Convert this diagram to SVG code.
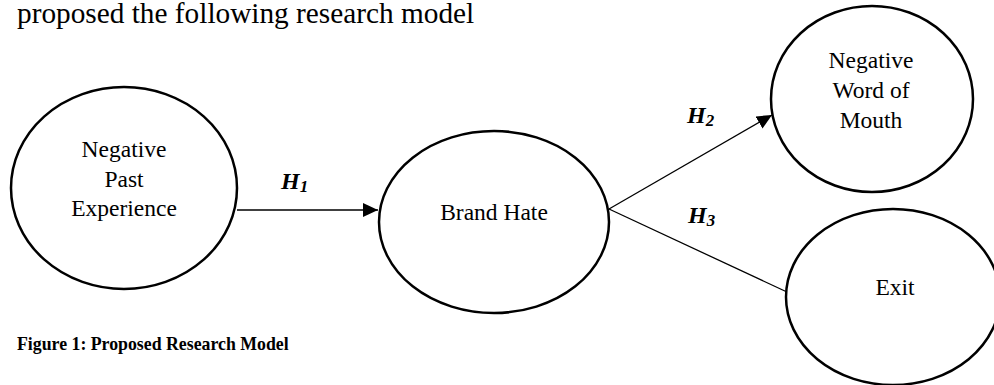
<svg xmlns="http://www.w3.org/2000/svg" width="994" height="385" viewBox="0 0 994 385">
  <style>
    .node { fill: #ffffff; stroke: #000000; stroke-width: 2.5; }
    .label { font-family: "Liberation Serif", "Times New Roman", serif; font-size: 23.5px; fill: #000000; text-anchor: middle; }
    .hyp { font-family: "Liberation Serif", "Times New Roman", serif; font-size: 24px; font-weight: bold; font-style: italic; fill: #000000; }
    .sub { font-size: 17px; }
    .edge { stroke: #000000; stroke-width: 1.3; fill: none; }
    .body { font-family: "Liberation Serif", "Times New Roman", serif; font-size: 29.3px; fill: #000000; }
    .caption { font-family: "Liberation Serif", "Times New Roman", serif; font-size: 17.8px; font-weight: bold; fill: #000000; }
  </style>
  <defs>
    <marker id="arrow" markerWidth="15" markerHeight="14" refX="15" refY="7" orient="auto" markerUnits="userSpaceOnUse">
      <path d="M0,0 L15,7 L0,14 Z" fill="#000000"/>
    </marker>
  </defs>

  <rect width="994" height="385" fill="#ffffff"/>

  <text class="body" x="17" y="23">proposed the following research model</text>

  <!-- connectors -->
  <g id="connectors">
    <line class="edge" x1="237" y1="210" x2="378" y2="210" marker-end="url(#arrow)"/>
    <line class="edge" x1="609" y1="209" x2="772" y2="115" marker-end="url(#arrow)"/>
    <line class="edge" x1="609" y1="209" x2="787" y2="292"/>
    <text class="hyp" x="281" y="189">H<tspan class="sub" dy="3">1</tspan></text>
    <text class="hyp" x="687" y="123">H<tspan class="sub" dy="3">2</tspan></text>
    <text class="hyp" x="688" y="223">H<tspan class="sub" dy="3">3</tspan></text>
  </g>

  <g id="negative-past-experience">
    <ellipse class="node" cx="124" cy="188" rx="113" ry="101"/>
    <text class="label" x="124" y="157">Negative</text>
    <text class="label" x="124" y="187">Past</text>
    <text class="label" x="124" y="216">Experience</text>
  </g>

  <g id="brand-hate">
    <ellipse class="node" cx="494" cy="222" rx="115" ry="91"/>
    <text class="label" x="494" y="220">Brand Hate</text>
  </g>

  <g id="negative-word-of-mouth">
    <ellipse class="node" cx="872" cy="99" rx="101" ry="93"/>
    <text class="label" x="871" y="68">Negative</text>
    <text class="label" x="871" y="98">Word of</text>
    <text class="label" x="871" y="128">Mouth</text>
  </g>

  <g id="exit">
    <ellipse class="node" cx="893" cy="297" rx="107" ry="88"/>
    <text class="label" x="895" y="295">Exit</text>
  </g>

  <text class="caption" x="17" y="350">Figure 1: Proposed Research Model</text>
</svg>
